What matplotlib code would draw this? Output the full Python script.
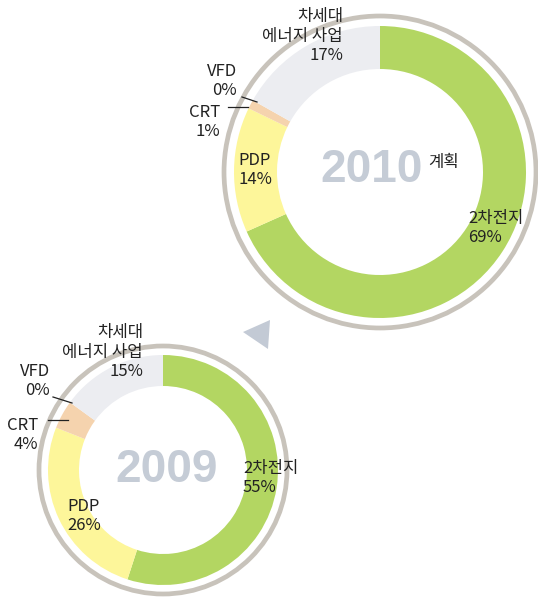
import matplotlib
matplotlib.use("Agg")
from matplotlib import pyplot as plt
from matplotlib.patches import Circle, Polygon

plt.rcParams['font.family'] = ['Noto Sans CJK KR', 'DejaVu Sans']

# data
categories = ['2차전지', 'PDP', 'CRT', 'VFD', '차세대\n에너지 사업']
share_2010 = [69, 14, 1, 0, 17]
share_2009 = [55, 26, 4, 0, 15]
colors = ['#b3d662', '#fdf69a', '#f5d3ae', '#f5d3ae', '#ecedf1']

W, H = 538, 597
fig = plt.figure(figsize=(W / 100, H / 100), dpi=100)
ax = fig.add_axes([0, 0, 1, 1])

def py(y):
    # pixel row -> data y
    return H - y

def donut(vals, cx, cy, r, width, ring_r):
    ax.pie(vals, colors=colors, startangle=90, counterclock=False,
           center=(cx, py(cy)), radius=r, frame=True,
           wedgeprops=dict(width=width, linewidth=0))
    ax.add_patch(Circle((cx, py(cy)), ring_r, fill=False, ec='#c8c3bb', lw=3.4))

donut(share_2010, 380, 172, 146, 43, 156)
donut(share_2009, 163, 470, 115, 31, 124)
ax.set_xlim(0, W)
ax.set_ylim(0, H)
ax.set_aspect('equal')
ax.axis('off')

fs = 12
tc = '#222222'

def lbl(x, y, s, ha='left'):
    ax.text(x, py(y), s, ha=ha, va='center', fontsize=fs, color=tc, linespacing=1.2)

# 2010
lbl(343, 36, categories[4] + '\n%d%%' % share_2010[4], ha='right')
lbl(237, 81, categories[3] + '\n%d%%' % share_2010[3], ha='right')
lbl(220, 122, categories[2] + '\n%d%%' % share_2010[2], ha='right')
lbl(238, 170, categories[1] + '\n%d%%' % share_2010[1])
lbl(468, 228, categories[0] + '\n%d%%' % share_2010[0])
ax.plot([242, 257], [py(97), py(102)], color='#222222', lw=0.9)
ax.plot([228, 248], [py(107), py(107)], color='#222222', lw=0.9)
ax.text(372, py(170), '2010', ha='center', va='center', fontsize=33,
        fontweight='bold', family='Liberation Sans', color='#c5ccd6')
ax.text(428, py(163), '계획', ha='left', va='center', fontsize=fs, color=tc)

# 2009
lbl(143, 352, categories[4] + '\n%d%%' % share_2009[4], ha='right')
lbl(50, 381, categories[3] + '\n%d%%' % share_2009[3], ha='right')
lbl(38, 435, categories[2] + '\n%d%%' % share_2009[2], ha='right')
lbl(67, 516, categories[1] + '\n%d%%' % share_2009[1])
lbl(243, 478, categories[0] + '\n%d%%' % share_2009[0])
ax.plot([53, 72], [py(397), py(403)], color='#222222', lw=0.9)
ax.plot([48, 68], [py(420), py(420)], color='#222222', lw=0.9)
ax.text(167, py(470), '2009', ha='center', va='center', fontsize=33,
        fontweight='bold', family='Liberation Sans', color='#c5ccd6')

# arrow between years
ax.add_patch(Polygon([(243, py(332)), (270, py(320)), (268, py(349))],
                     closed=True, fc='#c3cad5', ec='none'))

fig.savefig('out.png', dpi=100)
